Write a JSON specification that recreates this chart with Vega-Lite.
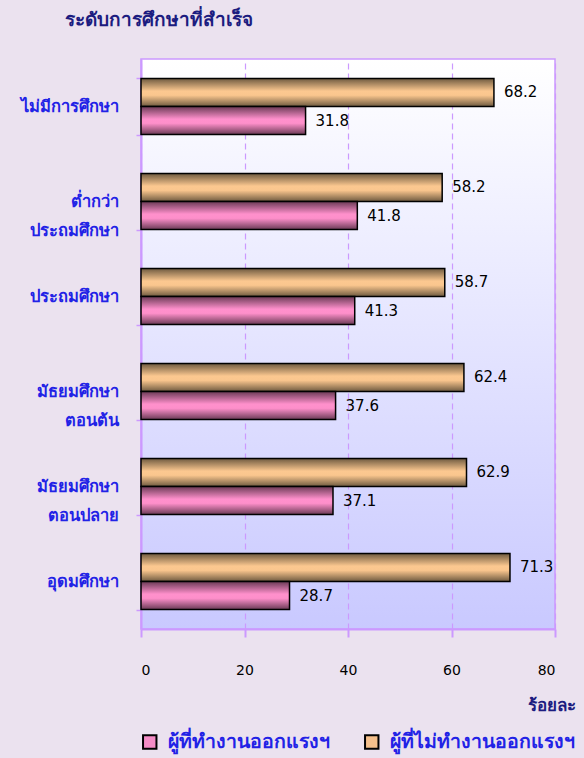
{
  "$schema": "https://vega.github.io/schema/vega-lite/v6.json",
  "autosize": "none",
  "width": 414,
  "height": 570,
  "padding": {"left": 141, "top": 59, "right": 29, "bottom": 129},
  "background": "#ebe2ef",
  "view": {
    "stroke": "#cc99ff",
    "strokeWidth": 1.5,
    "fill": {"gradient": "linear", "x1": 0, "y1": 0, "x2": 0, "y2": 1, "stops": [{"offset": 0, "color": "#ffffff"}, {"offset": 1, "color": "#c9c9ff"}]}
  },
  "title": {
    "text": "ระดับการศึกษาที่สำเร็จ",
    "anchor": "start",
    "frame": "group",
    "dx": -76,
    "offset": 21,
    "fontSize": 19,
    "fontWeight": "bold",
    "color": "#1c1c80",
    "font": "Tahoma, DejaVu Sans, sans-serif"
  },
  "data": {
    "values": [
      {"edu": "ไม่มีการศึกษา", "group": "ผู้ที่ไม่ทำงานออกแรงฯ", "value": 68.2},
      {"edu": "ไม่มีการศึกษา", "group": "ผู้ที่ทำงานออกแรงฯ", "value": 31.8},
      {"edu": "ต่ำกว่า|ประถมศึกษา", "group": "ผู้ที่ไม่ทำงานออกแรงฯ", "value": 58.2},
      {"edu": "ต่ำกว่า|ประถมศึกษา", "group": "ผู้ที่ทำงานออกแรงฯ", "value": 41.8},
      {"edu": "ประถมศึกษา", "group": "ผู้ที่ไม่ทำงานออกแรงฯ", "value": 58.7},
      {"edu": "ประถมศึกษา", "group": "ผู้ที่ทำงานออกแรงฯ", "value": 41.3},
      {"edu": "มัธยมศึกษา|ตอนต้น", "group": "ผู้ที่ไม่ทำงานออกแรงฯ", "value": 62.4},
      {"edu": "มัธยมศึกษา|ตอนต้น", "group": "ผู้ที่ทำงานออกแรงฯ", "value": 37.6},
      {"edu": "มัธยมศึกษา|ตอนปลาย", "group": "ผู้ที่ไม่ทำงานออกแรงฯ", "value": 62.9},
      {"edu": "มัธยมศึกษา|ตอนปลาย", "group": "ผู้ที่ทำงานออกแรงฯ", "value": 37.1},
      {"edu": "อุดมศึกษา", "group": "ผู้ที่ไม่ทำงานออกแรงฯ", "value": 71.3},
      {"edu": "อุดมศึกษา", "group": "ผู้ที่ทำงานออกแรงฯ", "value": 28.7}
    ]
  },
  "encoding": {
    "y": {
      "field": "edu",
      "type": "nominal",
      "sort": null,
      "scale": {"paddingInner": 0.41, "paddingOuter": 0.205},
      "axis": {
        "title": null,
        "labelExpr": "split(datum.label, '|')",
        "labelFontSize": 16.5,
        "labelFontWeight": "bold",
        "labelFont": "Tahoma, DejaVu Sans, sans-serif",
        "labelColor": "#2222e6",
        "labelLineHeight": 29,
        "labelPadding": 18,
        "labelAlign": "right",
        "tickBand": "extent",
        "tickSize": 5,
        "tickColor": "#cc99ff",
        "tickWidth": 1.5,
        "domainColor": "#cc99ff",
        "domainWidth": 2,
        "grid": false
      }
    },
    "yOffset": {
      "field": "group",
      "type": "nominal",
      "sort": ["ผู้ที่ไม่ทำงานออกแรงฯ", "ผู้ที่ทำงานออกแรงฯ"],
      "scale": {"domain": ["ผู้ที่ไม่ทำงานออกแรงฯ", "ผู้ที่ทำงานออกแรงฯ"], "paddingInner": 0, "paddingOuter": 0}
    },
    "x": {
      "field": "value",
      "type": "quantitative",
      "scale": {"domain": [0, 80], "nice": false},
      "axis": {
        "values": [0, 20, 40, 60, 80],
        "title": "ร้อยละ",
        "titleAnchor": "end",
        "titleAlign": "right",
        "titleX": 434,
        "titleY": 68,
        "titleFontSize": 17,
        "titleFontWeight": "bold",
        "titleColor": "#1c1c80",
        "titleFont": "Tahoma, DejaVu Sans, sans-serif",
        "labelFontSize": 14,
        "labelColor": "#000000",
        "labelFont": "Tahoma, DejaVu Sans, sans-serif",
        "labelPadding": 26,
        "tickSize": 8,
        "tickColor": "#cc99ff",
        "tickWidth": 2,
        "domainColor": "#cc99ff",
        "domainWidth": 2,
        "grid": true,
        "gridColor": "#cc99ff",
        "gridDash": [6, 4],
        "gridWidth": 1.2
      }
    }
  },
  "layer": [
    {
      "transform": [{"filter": "datum.group === 'ผู้ที่ไม่ทำงานออกแรงฯ'"}],
      "mark": {
        "type": "bar", "stroke": "#000000", "strokeWidth": 1.5,
        "fill": {"gradient": "linear", "x1": 0, "y1": 0, "x2": 0, "y2": 1, "stops": [{"offset": 0, "color": "#6e5a40"}, {"offset": 0.45, "color": "#fcc890"}, {"offset": 0.6, "color": "#fac68e"}, {"offset": 1, "color": "#6e5a40"}]}
      }
    },
    {
      "transform": [{"filter": "datum.group === 'ผู้ที่ทำงานออกแรงฯ'"}],
      "mark": {
        "type": "bar", "stroke": "#000000", "strokeWidth": 1.5,
        "fill": {"gradient": "linear", "x1": 0, "y1": 0, "x2": 0, "y2": 1, "stops": [{"offset": 0, "color": "#6a3a55"}, {"offset": 0.45, "color": "#ff90cc"}, {"offset": 0.6, "color": "#fd8fca"}, {"offset": 1, "color": "#6a3a55"}]}
      }
    },
    {
      "mark": {"type": "point", "shape": "square", "filled": true, "opacity": 0},
      "encoding": {
        "color": {
          "field": "group",
          "type": "nominal",
          "scale": {"domain": ["ผู้ที่ทำงานออกแรงฯ", "ผู้ที่ไม่ทำงานออกแรงฯ"], "range": ["#f48cc6", "#f5c08c"]},
          "legend": {
            "orient": "none",
            "legendX": -1,
            "legendY": 673,
            "direction": "horizontal",
            "title": null,
            "symbolType": "square",
            "symbolSize": 180,
            "symbolOpacity": 1,
            "symbolStrokeColor": "#000000",
            "symbolStrokeWidth": 2,
            "labelFontSize": 19.5,
            "labelFont": "Tahoma, DejaVu Sans, sans-serif",
            "labelColor": "#2222e6",
            "labelFontWeight": "bold",
            "labelLimit": 300,
            "columnPadding": 31,
            "labelOffset": 8
          }
        }
      }
    },
    {
      "mark": {"type": "text", "align": "left", "dx": 10, "fontSize": 15, "font": "Tahoma, DejaVu Sans, sans-serif", "color": "#000000"},
      "encoding": {
        "text": {"field": "value", "type": "quantitative", "format": ".1f"}
      }
    }
  ]
}
